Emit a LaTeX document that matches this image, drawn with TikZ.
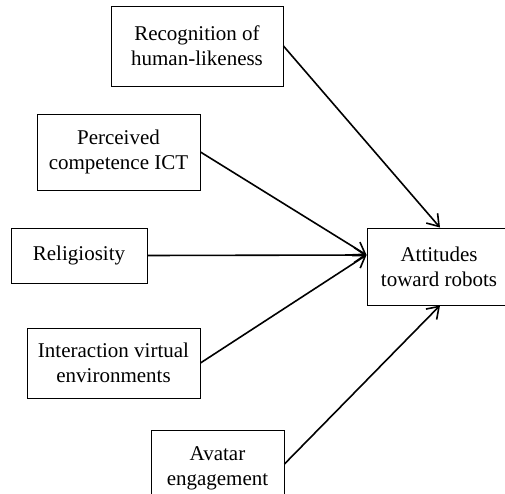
\documentclass[tikz,border=0pt]{standalone}
\usepackage{fontspec}
\setmainfont{Liberation Serif}
\usetikzlibrary{arrows.meta}
\tikzset{
  box/.style={draw,line width=0.9pt,align=center,inner sep=0pt,font=\fontsize{21}{25}\selectfont},
  link/.style={line width=1.6pt,-{Straight Barb[length=11pt,width=15pt,line width=1.6pt]}}
}
\begin{document}
\begin{tikzpicture}[x=1pt,y=-1pt]
\useasboundingbox (0,0) rectangle (505,494);
\node[box,minimum width=172pt,minimum height=80pt] (rec) at (197,46) {Recognition of\\human-likeness};
\node[box,minimum width=163pt,minimum height=76pt] (per) at (118.5,152) {Perceived\\competence ICT};
\node[box,minimum width=136pt,minimum height=55pt] (rel) at (79,255.5) {Religiosity};
\node[box,minimum width=173pt,minimum height=70pt] (int) at (113.5,363) {Interaction virtual\\environments};
\node[box,minimum width=133pt,minimum height=76pt] (ava) at (217.5,468) {Avatar\\engagement};
\node[box,minimum width=144pt,minimum height=77pt] (att) at (439,266.5) {Attitudes\\toward robots};
\coordinate (attin) at ([yshift=11.5pt]att.west);
\draw[link] (rec.east) -- ([xshift=1pt]att.north);
\foreach \n in {per,rel,int} {
  \draw[link] (\n.east) -- (attin);
}
\draw[link] ([yshift=4pt]ava.east) -- ([xshift=1pt]att.south);
\end{tikzpicture}
\end{document}
